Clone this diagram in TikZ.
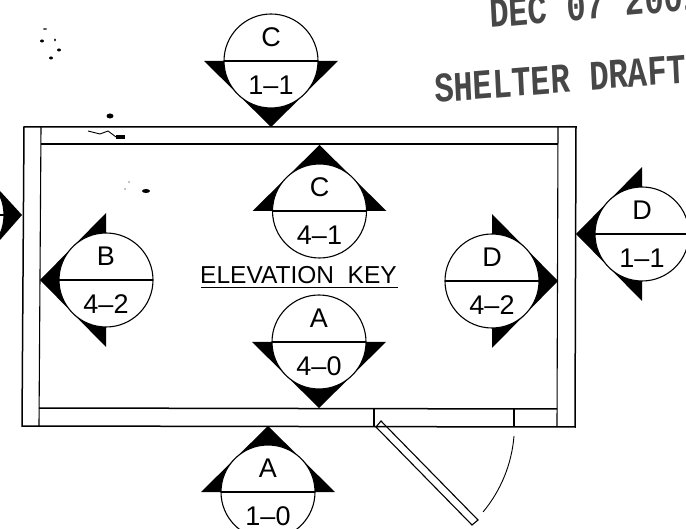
\documentclass[tikz,border=0pt]{standalone}
\usepackage{fontspec}
\setmainfont{Liberation Sans}
\newfontfamily\stampfont{Liberation Mono}
\usepackage{tikz}
\usetikzlibrary{positioning}
\tikzstyle{wall} = [draw, line width=1.5pt]
\tikzstyle{thinwall} = [draw, line width=1.1pt]
\tikzstyle{ring} = [draw, fill=white, line width=1.1pt]
\tikzstyle{pointer} = [fill=black]
\tikzstyle{marklabel} = [inner sep=0pt, font=\fontsize{27}{27}\selectfont]
\tikzstyle{stamp} = [inner sep=0pt, anchor=base west, text=black!72, xscale=0.77, font=\stampfont\bfseries\fontsize{42}{42}\selectfont]
\tikzstyle{speck} = [fill=black]
% name, centre x, centre y, pointer rotation, upper text, lower text
\newcommand{\elevmark}[6]{
    \fill [pointer, shift={(#2,#3)}, rotate=#4] (-67,0) -- (67,0) -- (0,66) -- cycle;
    \path [ring] (#2,#3) circle (47);
    \draw [thinwall] (#2-47,#3) -- (#2+47,#3);
    \node [marklabel] (#1upper) at (#2,#3-24) {#5};
    \node [marklabel] (#1lower) at (#2,#3+24) {#6};
}
\begin{document}
\begin{tikzpicture}[x=1pt, y=-1pt]
    \useasboundingbox (0,0) rectangle (686,529);

    % Walls
    \path [wall] (24,127) -- (576,127) -- (575,427) -- (22,426) -- cycle;
    \path [thinwall] (41,127) -- (39,426);
    \path [thinwall] (558,127) -- (557,427);
    \path [thinwall] (41,144) -- (558,144);
    \path [wall] (39,408) -- (557,409);
    \path [thinwall] (374,409) -- (374,427);
    \path [thinwall] (514,409) -- (514,427);

    % Door
    \path [thinwall] (376,427) -- (381,421) -- (478,520) -- (472,525) -- cycle;
    \draw [line width=0.9pt] (514,436) arc [start angle=4.6, end angle=39.7, radius=136];

    % Place markers
    \elevmark{ctop}{271}{61}{0}{C}{1--1}
    \elevmark{cmid}{319.5}{211}{180}{C}{4--1}
    \elevmark{amid}{319}{342}{0}{A}{4--0}
    \elevmark{abot}{268}{492}{180}{A}{1--0}
    \elevmark{bmid}{106}{280}{-90}{B}{4--2}
    \elevmark{dmid}{492}{281}{90}{D}{4--2}
    \elevmark{dout}{642}{234}{-90}{D}{1--1}
    \fill [pointer] (22,215) -- (0,191) -- (0,240) -- cycle;
    \path [ring] (-43,215) circle (47);
    \draw [thinwall] (0,215) -- (4,215);

    % Title
    \node [inner sep=0pt, anchor=base west, font=\fontsize{24.5}{24.5}\selectfont] (title) at (200,284) {ELEVATION\ \ KEY};
    \path [wall] (201,287.5) -- (398,287.5);

    % Stamps
    \node [stamp, rotate=3.9] (date) at (490,28) {DEC 07 2001};
    \node [stamp, rotate=3.6] (draft) at (435,103) {SHELTER DRAFT};

    % Specks
    \foreach \sx/\sy/\sa/\sb in {45/29/2/.7, 42/41/2/1.5, 55/40/1/1.5, 59/50/2/1.5, 51/58/2/1.5, 110/116/3.5/2.5, 146/191/4/2, 129/182/.6/.6, 125/189/.6/.6}
        \fill [speck] (\sx,\sy) ellipse [x radius=\sa, y radius=\sb];
    \draw [line width=0.9pt] (88,131) -- (100,134) -- (108,131) -- (116,137) -- (123,136);
    \fill [speck] (116,135) rectangle (125,139);
\end{tikzpicture}
\end{document}
